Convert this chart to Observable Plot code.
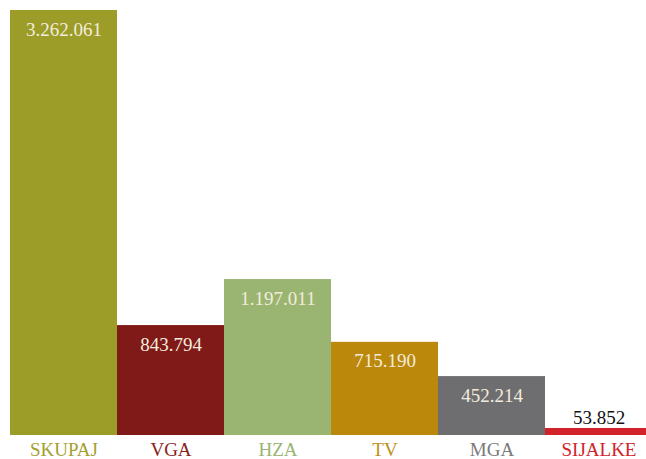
<!DOCTYPE html>
<html>
<head>
<meta charset="utf-8">
<script src="https://cdn.jsdelivr.net/npm/d3@7"></script>
<script src="https://cdn.jsdelivr.net/npm/@observablehq/plot@0.6"></script>
<style>
html, body { margin: 0; padding: 0; background: #fff; overflow: hidden; }
#chart { width: 646px; height: 459px; overflow: hidden; }
#chart svg { max-width: none !important; }
</style>
</head>
<body>
<div id="chart"></div>
<script>
const categories = ["SKUPAJ", "VGA", "HZA", "TV", "MGA", "SIJALKE"];
const values = [3262061, 843794, 1197011, 715190, 452214, 53852];
const labels = ["3.262.061", "843.794", "1.197.011", "715.190", "452.214", "53.852"];
const colors = ["#9c9c28", "#801a18", "#9ab571", "#bb880c", "#6e6e70", "#d2232a"];
const labelColors = ["#a3a032", "#8a1f1c", "#9ab571", "#c0901a", "#7a7a7c", "#d2232a"];
const inside = [true, true, true, true, true, false];

const data = categories.map((c, i) => ({cat: c, value: values[i], label: labels[i], color: colors[i], lc: labelColors[i], inside: inside[i]}));

const chart = Plot.plot({
  width: 656,
  height: 459,
  marginLeft: 10,
  marginRight: 4,
  marginTop: 10,
  marginBottom: 24,
  style: {fontFamily: "Liberation Serif", background: "transparent", maxWidth: "none"},
  x: {domain: categories, padding: 0, axis: null},
  y: {domain: [0, 3262061], axis: null},
  color: {type: "identity"},
  marks: [
    Plot.barY(data, {x: "cat", y: "value", fill: "color"}),
    Plot.text(data.filter(d => d.inside), {x: "cat", y: "value", text: "label", dy: 19, fill: "#f3ecdd", fontSize: 19}),
    Plot.text(data.filter(d => !d.inside), {x: "cat", y: "value", text: "label", dy: -11, fill: "#111", fontSize: 19}),
    Plot.text(data, {x: "cat", y: 0, text: "cat", dy: 14, fill: "lc", fontSize: 19})
  ]
});
document.getElementById("chart").appendChild(chart);
</script>
</body>
</html>
